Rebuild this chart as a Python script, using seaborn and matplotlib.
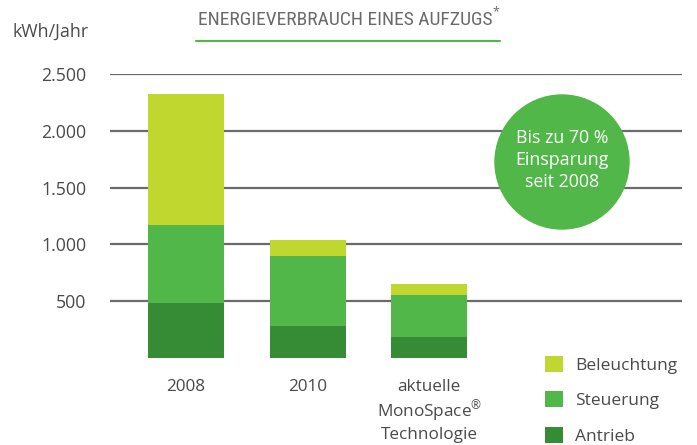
import matplotlib
matplotlib.use("Agg")
import matplotlib.pyplot as plt
import seaborn as sns
import pandas as pd
from matplotlib.patches import Ellipse, Patch

categories = ["2008", "2010", "aktuelle\nMonoSpace$^{®}$\nTechnologie"]
antrieb = [485, 282, 185]
steuerung = [690, 618, 371]
beleuchtung = [1145, 141, 97]
series_names = ["Beleuchtung", "Steuerung", "Antrieb"]
yticks = [500, 1000, 1500, 2000, 2500]
ytick_labels = ["500", "1.000", "1.500", "2.000", "2.500"]

colors = {"Beleuchtung": "#c0d72f", "Steuerung": "#50b748", "Antrieb": "#368c35"}
text_grey = "#4a4a4a"

sns.set_style("white")
plt.rcParams["font.family"] = ["Open Sans", "DejaVu Sans"]
plt.rcParams["mathtext.fontset"] = "custom"
plt.rcParams["mathtext.rm"] = "Open Sans"
plt.rcParams["mathtext.default"] = "regular"

df = pd.DataFrame({"cat": categories, "Antrieb": antrieb,
    "Steuerung": steuerung, "Beleuchtung": beleuchtung})
df["top_steuerung"] = df["Antrieb"] + df["Steuerung"]
df["top_beleuchtung"] = df["top_steuerung"] + df["Beleuchtung"]

fig = plt.figure(figsize=(6.97, 4.45), dpi=100)
ax = fig.add_axes([110 / 697, 1 - 358 / 445, (682 - 110) / 697, (358 - 74) / 445])

for y in yticks:
    ax.axhline(y, color="#6b6b6b", lw=1.6, zorder=0)

# stacked bars drawn from the total downwards
for col, name in [("top_beleuchtung", "Beleuchtung"), ("top_steuerung", "Steuerung"),
                  ("Antrieb", "Antrieb")]:
    sns.barplot(data=df, x="cat", y=col, color=colors[name], saturation=1,
        width=0.625, linewidth=0, ax=ax, zorder=2)

ax.set_xlim(-0.625, 4.08)
ax.set_ylim(0, 2500)
ax.set_yticks(yticks)
ax.set_yticklabels(ytick_labels, fontsize=12.8, color=text_grey)
ax.tick_params(axis="y", length=0, pad=17)
ax.tick_params(axis="x", length=0, pad=15, labelsize=12.3, labelcolor=text_grey)
ax.set_xlabel("")
ax.set_ylabel("")
for s in ax.spines.values():
    s.set_visible(False)
for lbl in ax.get_xticklabels():
    lbl.set_linespacing(1.2)
    lbl.set_verticalalignment("top")
ax.patch.set_alpha(0)

# savings bubble
circ = Ellipse((562 / 697, 1 - 162 / 445), 134 / 697, 134 / 445,
    transform=fig.transFigure, color=colors["Steuerung"], zorder=5)
fig.patches.append(circ)
fig.text(562 / 697, 1 - 160 / 445, "Bis zu 70 %\nEinsparung\nseit 2008", color="white",
    fontsize=12.8, ha="center", va="center", linespacing=1.3, zorder=6)

# title and unit
fig.text(345 / 697, 1 - 20 / 445, "ENERGIEVERBRAUCH EINES AUFZUGS",
    fontsize=14, color="#6a6a6a", ha="center", va="center",
    family=["Roboto Condensed", "Roboto", "DejaVu Sans"], fontstretch="condensed")
fig.text(492 / 697, 1 - 12 / 445, "*", fontsize=9, color="#6a6a6a",
    ha="left", va="center")
fig.add_artist(plt.Line2D([196 / 697, 500 / 697], [1 - 41 / 445, 1 - 41 / 445],
    color="#50b748", lw=1.5))
fig.text(12 / 697, 1 - 32 / 445, "kWh/Jahr", fontsize=12.8, color=text_grey,
    ha="left", va="center")

handles = [Patch(facecolor=colors[n], edgecolor="none") for n in series_names]
fig.legend(handles, series_names, loc="lower left", bbox_to_anchor=(529 / 697, -0.034),
    frameon=False, fontsize=12.5, labelcolor=text_grey, handlelength=1.05,
    handleheight=1.05, labelspacing=1.0, handletextpad=0.7)

fig.savefig("out.png", dpi=100)
